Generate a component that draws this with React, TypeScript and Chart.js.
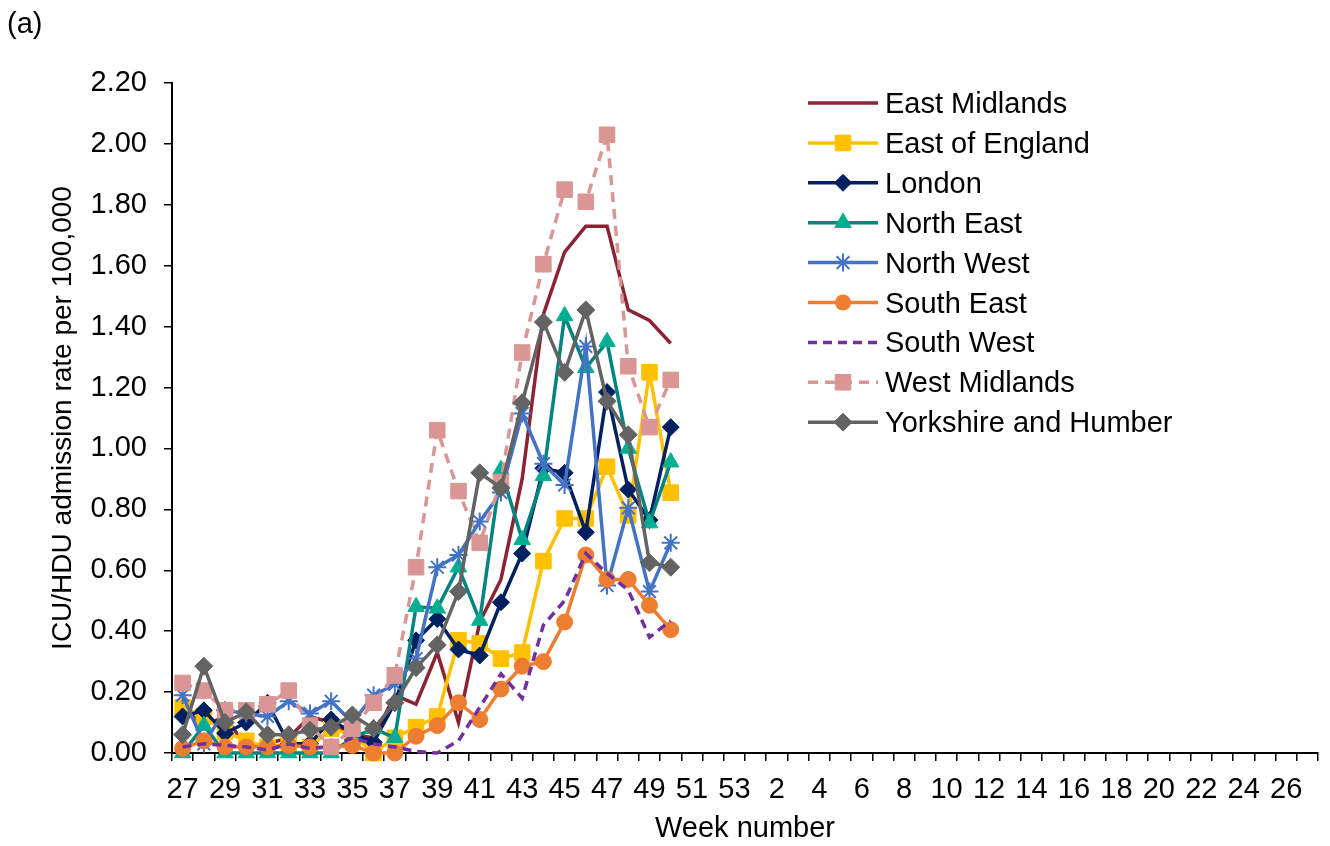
import React, { useEffect, useRef } from 'react';
import { Chart, registerables } from 'chart.js';

Chart.register(...registerables);

// Week numbers on the category axis (27..53, then 1..27)
const weekLabels: string[] = [
  '27', '28', '29', '30', '31', '32', '33', '34', '35', '36', '37', '38', '39', '40',
  '41', '42', '43', '44', '45', '46', '47', '48', '49', '50', '51', '52', '53',
  '1', '2', '3', '4', '5', '6', '7', '8', '9', '10', '11', '12', '13', '14', '15',
  '16', '17', '18', '19', '20', '21', '22', '23', '24', '25', '26', '27',
];
// Tick labels actually printed (every other week)
const xTickLabels: string[] = [
  '27', '', '29', '', '31', '', '33', '', '35', '', '37', '', '39', '',
  '41', '', '43', '', '45', '', '47', '', '49', '', '51', '', '53',
  '', '2', '', '4', '', '6', '', '8', '', '10', '', '12', '', '14', '',
  '16', '', '18', '', '20', '', '22', '', '24', '', '26', '',
];

const seriesNames: string[] = [
  'East Midlands', 'East of England', 'London', 'North East', 'North West',
  'South East', 'South West', 'West Midlands', 'Yorkshire and Humber',
];

// Weeks 27..50
const eastMidlands = [0.15, 0.09, 0.12, 0.02, 0.03, 0.05, 0.12, 0.10, 0.06, 0.05, 0.19, 0.16, 0.33, 0.10, 0.43, 0.57, 0.90, 1.44, 1.645, 1.73, 1.73, 1.455, 1.42, 1.345];
const eastOfEngland = [0.15, 0.12, 0.07, 0.04, 0.02, 0.03, 0.02, 0.08, 0.06, 0.0, 0.05, 0.085, 0.12, 0.37, 0.36, 0.31, 0.33, 0.63, 0.77, 0.77, 0.94, 0.78, 1.25, 0.855];
const london = [0.12, 0.14, 0.065, 0.10, 0.165, 0.03, 0.03, 0.11, 0.065, 0.035, 0.165, 0.37, 0.44, 0.34, 0.32, 0.495, 0.655, 0.935, 0.92, 0.725, 1.185, 0.865, 0.765, 1.07];
const northEast = [0.0, 0.09, 0.0, 0.0, 0.0, 0.0, 0.0, 0.0, 0.05, 0.08, 0.05, 0.48, 0.475, 0.61, 0.435, 0.93, 0.70, 0.91, 1.435, 1.265, 1.35, 1.0, 0.755, 0.955];
const northWest = [0.19, 0.03, 0.14, 0.13, 0.12, 0.17, 0.13, 0.17, 0.10, 0.19, 0.225, 0.31, 0.61, 0.65, 0.76, 0.855, 1.115, 0.95, 0.88, 1.335, 0.55, 0.805, 0.53, 0.69];
const southEast = [0.015, 0.04, 0.02, 0.02, 0.02, 0.025, 0.02, 0.02, 0.025, 0.0, 0.0, 0.055, 0.09, 0.165, 0.11, 0.21, 0.285, 0.30, 0.43, 0.65, 0.57, 0.57, 0.485, 0.405];
const southWest = [0.02, 0.03, 0.025, 0.02, 0.01, 0.03, 0.015, 0.02, 0.05, 0.03, 0.02, 0.005, 0.0, 0.04, 0.15, 0.26, 0.18, 0.42, 0.50, 0.655, 0.59, 0.535, 0.38, 0.435];
const westMidlands = [0.23, 0.205, 0.14, 0.14, 0.16, 0.205, 0.09, 0.02, 0.08, 0.165, 0.255, 0.61, 1.06, 0.86, 0.69, 0.89, 1.315, 1.605, 1.85, 1.81, 2.03, 1.27, 1.07, 1.225];
const yorkshire = [0.06, 0.285, 0.10, 0.135, 0.06, 0.06, 0.075, 0.085, 0.125, 0.08, 0.165, 0.28, 0.355, 0.53, 0.92, 0.87, 1.15, 1.415, 1.25, 1.455, 1.155, 1.045, 0.625, 0.61];

const FONT = '"Liberation Sans", Arial, sans-serif';
const LINE_W = 3.5;

type Style = {
  line: string;
  fill: string;
  point: string | false;
  radius: number;
  dash: number[];
};

const styles: Style[] = [
  { line: '#8B2332', fill: '#8B2332', point: false, radius: 0, dash: [] },
  { line: '#FFC000', fill: '#FFC000', point: 'rect', radius: 11, dash: [] },
  { line: '#002060', fill: '#002060', point: 'rectRot', radius: 8.5, dash: [] },
  { line: '#008480', fill: '#00AE92', point: 'triangle', radius: 9.5, dash: [] },
  { line: '#4472C4', fill: '#4472C4', point: 'star', radius: 9, dash: [] },
  { line: '#ED7D31', fill: '#ED7D31', point: 'circle', radius: 8, dash: [] },
  { line: '#7030A0', fill: '#7030A0', point: false, radius: 0, dash: [9, 6] },
  { line: '#D99694', fill: '#D99694', point: 'rect', radius: 11, dash: [10, 7] },
  { line: '#636363', fill: '#636363', point: 'rectRot', radius: 9, dash: [] },
];

const seriesData = [eastMidlands, eastOfEngland, london, northEast, northWest, southEast, southWest, westMidlands, yorkshire];

function drawMarker(ctx: CanvasRenderingContext2D, s: Style, x: number, y: number) {
  if (!s.point) return;
  const r = s.radius;
  ctx.save();
  ctx.setLineDash([]);
  ctx.fillStyle = s.fill;
  ctx.strokeStyle = s.fill;
  ctx.lineWidth = 1;
  ctx.beginPath();
  if (s.point === 'rect') {
    const h = Math.SQRT1_2 * r;
    ctx.rect(x - h, y - h, 2 * h, 2 * h);
    ctx.fill();
    ctx.stroke();
  } else if (s.point === 'rectRot') {
    ctx.moveTo(x - r, y);
    ctx.lineTo(x, y - r);
    ctx.lineTo(x + r, y);
    ctx.lineTo(x, y + r);
    ctx.closePath();
    ctx.fill();
    ctx.stroke();
  } else if (s.point === 'triangle') {
    let a = 0;
    ctx.moveTo(x + Math.sin(a) * r, y - Math.cos(a) * r);
    a += (2 * Math.PI) / 3;
    ctx.lineTo(x + Math.sin(a) * r, y - Math.cos(a) * r);
    a += (2 * Math.PI) / 3;
    ctx.lineTo(x + Math.sin(a) * r, y - Math.cos(a) * r);
    ctx.closePath();
    ctx.fill();
    ctx.stroke();
  } else if (s.point === 'circle') {
    ctx.arc(x, y, r, 0, Math.PI * 2);
    ctx.fill();
  } else if (s.point === 'star') {
    ctx.lineWidth = 2;
    for (let k = 0; k < 4; k++) {
      const a = (k * Math.PI) / 4;
      ctx.moveTo(x - Math.cos(a) * r, y - Math.sin(a) * r);
      ctx.lineTo(x + Math.cos(a) * r, y + Math.sin(a) * r);
    }
    ctx.stroke();
  }
  ctx.restore();
}

const LEGEND_X0 = 808;
const LEGEND_X1 = 878;
const LEGEND_TEXT_X = 885;
const LEGEND_TOP = 103;
const LEGEND_STEP = 39.9;

const legendPlugin = {
  id: 'customLegend',
  afterDraw(chart: Chart) {
    const ctx = chart.ctx;
    ctx.save();
    seriesNames.forEach((name, i) => {
      const s = styles[i];
      const y = LEGEND_TOP + i * LEGEND_STEP;
      ctx.strokeStyle = s.line;
      ctx.lineWidth = LINE_W;
      ctx.setLineDash(s.dash);
      ctx.beginPath();
      ctx.moveTo(LEGEND_X0, y);
      ctx.lineTo(LEGEND_X1, y);
      ctx.stroke();
      ctx.setLineDash([]);
      drawMarker(ctx, s, (LEGEND_X0 + LEGEND_X1) / 2, y);
      ctx.fillStyle = '#000';
      ctx.font = `29px ${FONT}`;
      ctx.textBaseline = 'middle';
      ctx.textAlign = 'left';
      ctx.fillText(name, LEGEND_TEXT_X, y + 2);
    });
    ctx.restore();
  },
};

export default function App() {
  const ref = useRef<HTMLCanvasElement>(null);

  useEffect(() => {
    if (!ref.current) return;
    Chart.defaults.font.family = FONT;
    const datasets = seriesData.map((d, i) => {
      const s = styles[i];
      return {
        label: seriesNames[i],
        data: d,
        borderColor: s.line,
        backgroundColor: s.fill,
        borderWidth: LINE_W,
        borderDash: s.dash,
        pointStyle: s.point || 'circle',
        pointRadius: s.point ? s.radius : 0,
        pointBackgroundColor: s.fill,
        pointBorderColor: s.fill,
        pointBorderWidth: s.point === 'star' ? 2 : 1,
        tension: 0,
        fill: false,
        clip: false as const,
        order: seriesData.length - 1 - i,
      };
    });

    const chart = new Chart(ref.current, {
      type: 'line',
      data: { labels: weekLabels, datasets: datasets as any },
      options: {
        responsive: false,
        animation: false,
        devicePixelRatio: 1,
        layout: { padding: { left: 0, right: 8, top: 83, bottom: 0 } },
        plugins: {
          legend: { display: false },
          tooltip: { enabled: false },
        },
        scales: {
          x: {
            type: 'category',
            offset: true,
            grid: {
              offset: true,
              drawOnChartArea: false,
              drawTicks: true,
              tickLength: 8,
              color: '#000',
              lineWidth: 1.5,
            },
            border: { display: true, color: '#000', width: 2 },
            ticks: {
              autoSkip: false,
              maxRotation: 0,
              minRotation: 0,
              color: '#000',
              font: { size: 29, family: FONT },
              padding: 12,
              callback: (_v: any, i: number) => xTickLabels[i],
            },
            title: {
              display: true,
              text: 'Week number',
              color: '#000',
              font: { size: 29, family: FONT },
              padding: { top: 0, bottom: 0 },
            },
            afterFit: (s: any) => {
              s.height = 93;
            },
          },
          y: {
            min: 0,
            max: 2.2,
            grid: {
              drawOnChartArea: false,
              drawTicks: true,
              tickLength: 8,
              color: '#000',
              lineWidth: 1.5,
            },
            border: { display: true, color: '#000', width: 2 },
            ticks: {
              stepSize: 0.2,
              color: '#000',
              font: { size: 29, family: FONT },
              padding: 17,
              callback: (v: any) => Number(v).toFixed(2),
            },
            title: {
              display: true,
              text: 'ICU/HDU admission rate per 100,000',
              color: '#000',
              font: { size: 28, family: FONT },
              padding: { top: 46, bottom: 0 },
            },
            afterFit: (s: any) => {
              s.width = 172;
            },
          },
        },
      },
      plugins: [legendPlugin],
    });
    return () => chart.destroy();
  }, []);

  return (
    <div style={{ position: 'absolute', left: 0, top: 0, width: 1330, height: 846, background: '#fff' }}>
      <canvas ref={ref} width={1330} height={846} style={{ display: 'block', width: 1330, height: 846 }} />
      <div
        style={{
          position: 'absolute',
          left: 7,
          top: 7,
          fontFamily: FONT,
          fontSize: 29,
          color: '#000',
          lineHeight: 'normal',
        }}
      >
        (a)
      </div>
    </div>
  );
}
